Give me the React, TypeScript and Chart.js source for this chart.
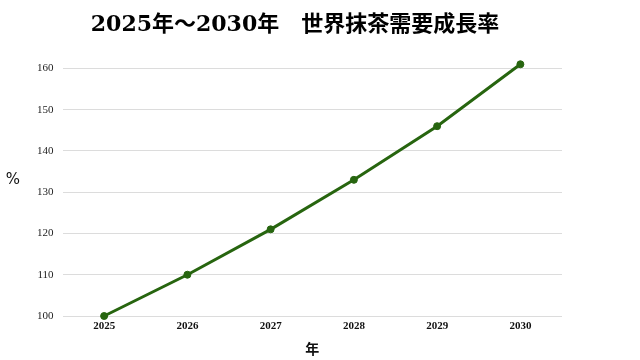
import React, { useEffect, useRef } from "react";
import { Chart, registerables } from "chart.js";

Chart.register(...registerables);

const years = ["2025", "2026", "2027", "2028", "2029", "2030"];
const growth = [100, 110, 121, 133, 146, 161];
const titleText = "2025年～2030年　世界抹茶需要成長率";
const yUnit = "%";
const xUnit = "年";

const unitPlugin = {
  id: "yUnitLabel",
  afterDraw(chart: any) {
    const ctx = chart.ctx;
    const area = chart.chartArea;
    ctx.save();
    ctx.font = "15px 'DejaVu Sans'";
    ctx.fillStyle = "#111";
    ctx.textAlign = "center";
    ctx.textBaseline = "middle";
    ctx.fillText(yUnit, 13, (area.top + area.bottom) / 2 - 12);
    ctx.restore();
  },
};

export default function App() {
  const ref = useRef<HTMLCanvasElement | null>(null);
  useEffect(() => {
    if (!ref.current) return;
    const chart = new Chart(ref.current, {
      type: "line",
      data: {
        labels: years,
        datasets: [
          {
            data: growth,
            borderColor: "#27650f",
            backgroundColor: "#27650f",
            borderWidth: 3,
            pointRadius: 3.5,
            pointBorderWidth: 1,
            pointHoverRadius: 3.5,
            tension: 0,
            clip: false as any,
          },
        ],
      },
      options: {
        responsive: false,
        animation: false,
        layout: { padding: { left: 28, right: 32, bottom: 3 } },
        plugins: {
          legend: { display: false },
          tooltip: { enabled: false },
          title: {
            display: true,
            text: titleText,
            color: "#000",
            font: { family: "'DejaVu Serif', 'Noto Sans CJK JP'", size: 22, weight: "bold" },
            padding: { top: 12, bottom: 30 },
          },
        },
        scales: {
          x: {
            offset: true,
            grid: { display: false, drawTicks: false },
            border: { display: false },
            ticks: {
              color: "#111",
              font: { family: "'Liberation Serif'", size: 11, weight: "bold" },
              padding: 4,
            },
            title: {
              display: true,
              text: xUnit,
              color: "#111",
              font: { family: "'Noto Sans CJK JP'", size: 14, weight: "bold" },
              padding: { top: 3, bottom: 0 },
            },
          },
          y: {
            min: 100,
            max: 160,
            ticks: {
              stepSize: 10,
              color: "#222",
              font: { family: "'Liberation Serif'", size: 11 },
              padding: 9,
            },
            grid: { color: "#dcdcdc", lineWidth: 1, drawTicks: false },
            border: { display: false },
          },
        },
      },
      plugins: [unitPlugin],
    });
    return () => chart.destroy();
  }, []);
  return (
    <div style={{ position: "absolute", left: 0, top: 0, width: 640, height: 360, background: "#fff" }}>
      <canvas ref={ref} width={594} height={360} style={{ display: "block" }} />
    </div>
  );
}
